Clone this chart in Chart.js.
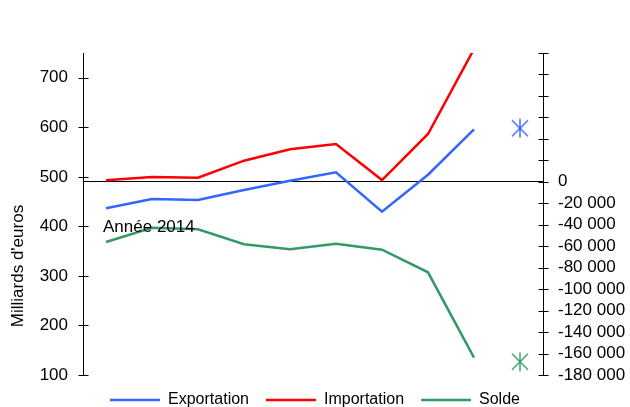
<!DOCTYPE html>
<html><head><meta charset="utf-8">
<script src="https://cdn.jsdelivr.net/npm/chart.js@4"></script>
<style>html,body{margin:0;padding:0;background:#fff;overflow:hidden}</style>
</head><body>
<canvas id="c" width="630" height="407"></canvas>
<script>
// ---- data ----
const categories = ['2014','2015','2016','2017','2018','2019','2020','2021','2022','2023'];
const exportation = [436.5, 455.3, 453.3, 473.4, 492.2, 509.2, 429.6, 504.3, 596.0, null];
const importation = [493.0, 499.7, 498.3, 532.6, 555.6, 566.3, 493.6, 586.5, 758.0, null];
const solde = [-56100, -42760, -44250, -58230, -62890, -57670, -63260, -84320, -163880, null];
const exportationMarker = [null, null, null, null, null, null, null, null, null, 598];
const soldeMarker = [null, null, null, null, null, null, null, null, null, -167600];
const seriesNames = ['Exportation', 'Importation', 'Solde'];
const leftTicks = [100, 200, 300, 400, 500, 600, 700];
const leftRange = [100, 750];
const rightTicks = [-180000, -160000, -140000, -120000, -100000, -80000, -60000, -40000, -20000, 0, 20000, 40000, 60000, 80000, 100000, 120000];
const rightRange = [-180000, 120000];
const leftTitle = "Milliards d'euros";
const annotationText = 'Année 2014';
const annotationValue = 398;

const FONT = '"Liberation Sans", Arial, Helvetica, sans-serif';
const BLUE = '#3366ff', RED = '#ff0000', GREEN = '#339966';

function asterisk(color) {
  const c = document.createElement('canvas');
  c.width = 20; c.height = 20;
  const g = c.getContext('2d');
  g.strokeStyle = color; g.lineWidth = 1.4;
  g.beginPath();
  g.moveTo(10, 0.5); g.lineTo(10, 19.5);
  g.moveTo(2, 2); g.lineTo(18, 18);
  g.moveTo(18, 2); g.lineTo(2, 18);
  g.stroke();
  return c;
}

function fmtSpace(v) {
  const s = String(Math.abs(v)).replace(/\B(?=(\d{3})+(?!\d))/g, ' ');
  return (v < 0 ? '-' : '') + s;
}

const extras = {
  id: 'extras',
  afterDatasetsDraw(chart) {
    const {ctx, scales} = chart;
    ctx.save();
    ctx.fillStyle = '#000';
    ctx.font = '17px ' + FONT;
    ctx.textAlign = 'left';
    ctx.textBaseline = 'middle';
    ctx.fillText(annotationText, scales.x.getPixelForValue(0) - 3, scales.y.getPixelForValue(annotationValue));
    ctx.restore();
  },
  afterDraw(chart) {
    const {ctx, scales, chartArea} = chart;
    ctx.save();
    ctx.fillStyle = '#000';
    ctx.font = '17px ' + FONT;
    ctx.translate(18.5, (chartArea.top + chartArea.bottom) / 2 + 52);
    ctx.rotate(-Math.PI / 2);
    ctx.textAlign = 'center';
    ctx.textBaseline = 'middle';
    ctx.fillText(leftTitle, 0, 0);
    ctx.restore();
    ctx.save();
    ctx.strokeStyle = '#000';
    ctx.lineWidth = 1;
    ctx.beginPath();
    [['y', chartArea.left], ['y1', chartArea.right]].forEach(([id, ax]) => {
      const sc = scales[id];
      const axX = Math.round(ax) + 0.5;
      sc.ticks.forEach(t => {
        const py = Math.round(sc.getPixelForValue(t.value)) + 0.5;
        ctx.moveTo(axX - 5, py); ctx.lineTo(axX + 5, py);
      });
    });
    ctx.stroke();
    ctx.restore();
  }
};

new Chart(document.getElementById('c'), {
  type: 'line',
  data: {
    labels: categories,
    datasets: [
      {label: seriesNames[0], data: exportation, yAxisID: 'y', borderColor: BLUE, backgroundColor: BLUE, borderWidth: 2.5, pointRadius: 0, tension: 0},
      {label: seriesNames[1], data: importation, yAxisID: 'y', borderColor: RED, backgroundColor: RED, borderWidth: 2.5, pointRadius: 0, tension: 0},
      {label: seriesNames[2], data: solde, yAxisID: 'y1', borderColor: GREEN, backgroundColor: GREEN, borderWidth: 2.5, pointRadius: 0, tension: 0},
      {label: 'm1', data: exportationMarker, yAxisID: 'y', showLine: false, pointStyle: asterisk(BLUE), pointRadius: 10, borderColor: BLUE},
      {label: 'm2', data: soldeMarker, yAxisID: 'y1', showLine: false, pointStyle: asterisk(GREEN), pointRadius: 10, borderColor: GREEN}
    ]
  },
  options: {
    responsive: false,
    animation: false,
    layout: {padding: {top: 53, bottom: -11, left: 0, right: 0}},
    plugins: {
      legend: {
        position: 'bottom',
        labels: {
          usePointStyle: true, pointStyle: 'line', pointStyleWidth: 50,
          padding: 17, color: '#000', font: {size: 16, family: FONT},
          filter: item => item.datasetIndex < 3
        }
      },
      tooltip: {enabled: false}
    },
    scales: {
      x: {type: 'category', display: false, offset: true},
      y: {
        position: 'left', min: leftRange[0], max: leftRange[1],
        afterBuildTicks: s => { s.ticks = leftTicks.map(v => ({value: v})); },
        afterFit: s => { s.width = 83; },
        grid: {display: true, drawOnChartArea: false, drawTicks: false},
        border: {display: true, color: '#000', width: 1},
        ticks: {padding: 15, color: '#000', font: {size: 17, family: FONT}, autoSkip: false}
      },
      y1: {
        position: 'right', min: rightRange[0], max: rightRange[1],
        afterBuildTicks: s => { s.ticks = rightTicks.map(v => ({value: v})); },
        afterFit: s => { s.width = 87; },
        grid: {display: true, drawOnChartArea: true, drawTicks: false, lineWidth: 1,
          color: c => (c.tick && c.tick.value === 0) ? '#000' : 'rgba(0,0,0,0)'},
        border: {display: true, color: '#000', width: 1},
        ticks: {padding: 15, color: '#000', font: {size: 17, family: FONT}, autoSkip: false,
          callback: v => v > 0 ? '' : fmtSpace(v)}
      }
    }
  },
  plugins: [extras]
});
</script>
</body></html>
